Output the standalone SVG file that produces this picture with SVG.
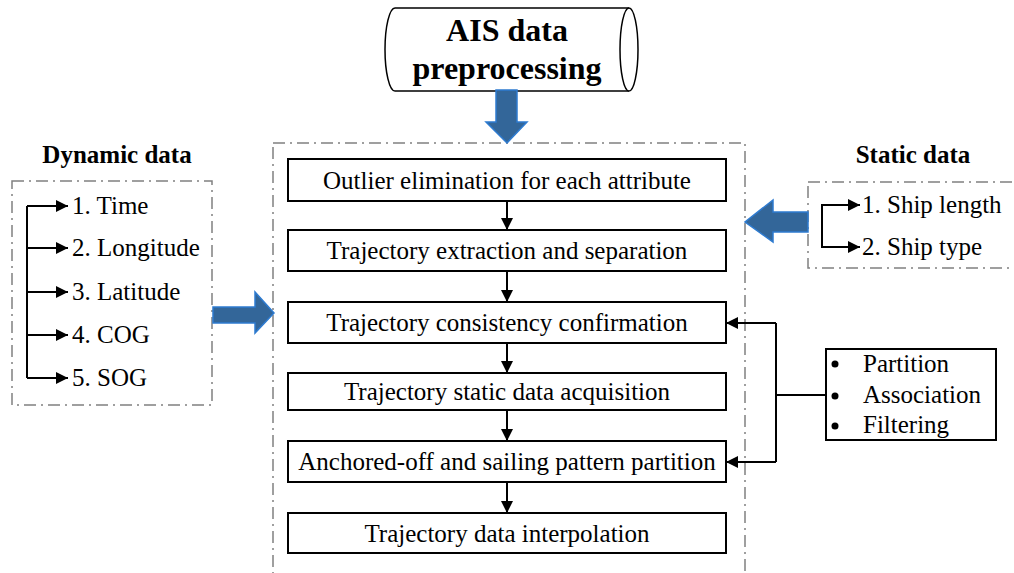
<svg xmlns="http://www.w3.org/2000/svg" width="1014" height="573" viewBox="0 0 1014 573">
<style>
.t{font-size:25px;fill:#000}
.h{font-size:32px}
.b{font-weight:bold}
.c{text-anchor:middle}
.box{fill:#fff;stroke:#000;stroke-width:2}
.dd{fill:none;stroke:#808080;stroke-width:1.5;stroke-dasharray:12 5 2 5}
.ln{fill:none;stroke:#000;stroke-width:2}
.blue{fill:#336699;stroke:#2E7BD0;stroke-width:1.5}
</style>
<defs>
<marker id="ah" viewBox="0 0 10 10" refX="10" refY="5" markerWidth="6" markerHeight="6" markerUnits="strokeWidth" orient="auto">
<path d="M0,0 L10,5 L0,10 Z" fill="#000"/>
</marker>
</defs>
<rect width="1014" height="573" fill="#fff"/>
<g font-family="Liberation Serif, Times New Roman, serif">
<g id="title">
<path d="M629,8 L395,8 A10 41.5 0 0 0 395,91 L629,91" fill="#fff" stroke="#000" stroke-width="1.5"/>
<ellipse cx="629" cy="49.5" rx="9" ry="41.5" fill="#fff" stroke="#000" stroke-width="1.5"/>
<text class="h b c" x="507" y="41">AIS data</text>
<text class="h b c" x="507" y="79">preprocessing</text>
</g>

<g id="main-container">
<rect class="dd" x="273" y="143" width="472" height="460"/>
</g>

<g id="dynamic">
<text class="t b c" x="117" y="163">Dynamic data</text>
<rect class="dd" x="12" y="181" width="200" height="224"/>
<text class="t" x="72" y="214">1. Time</text>
<text class="t" x="72" y="256">2. Longitude</text>
<text class="t" x="72" y="300">3. Latitude</text>
<text class="t" x="72" y="343">4. COG</text>
<text class="t" x="72" y="386">5. SOG</text>
</g>

<g id="static">
<text class="t b c" x="913" y="163">Static data</text>
<rect class="dd" x="808" y="182" width="210" height="86"/>
<text class="t" x="862" y="213">1. Ship length</text>
<text class="t" x="862" y="255">2. Ship type</text>
</g>

<g id="n1"><rect class="box" x="288" y="159" width="438" height="42"/><text class="t c" x="507" y="189">Outlier elimination for each attribute</text></g>
<g id="n2"><rect class="box" x="288" y="230" width="438" height="41"/><text class="t c" x="507" y="259">Trajectory extraction and separation</text></g>
<g id="n3"><rect class="box" x="288" y="302" width="438" height="41"/><text class="t c" x="507" y="331">Trajectory consistency confirmation</text></g>
<g id="n4"><rect class="box" x="288" y="373" width="438" height="37"/><text class="t c" x="507" y="400">Trajectory static data acquisition</text></g>
<g id="n5"><rect class="box" x="288" y="441" width="438" height="41"/><text class="t c" x="507" y="470">Anchored-off and sailing pattern partition</text></g>
<g id="n6"><rect class="box" x="288" y="513" width="438" height="40"/><text class="t c" x="507" y="542">Trajectory data interpolation</text></g>

<g id="methods">
<rect class="box" x="826" y="349" width="170" height="91"/>
<circle cx="835" cy="364" r="3.5" fill="#000"/>
<circle cx="835" cy="396" r="3.5" fill="#000"/>
<circle cx="835" cy="426" r="3.5" fill="#000"/>
<text class="t" x="863" y="372">Partition</text>
<text class="t" x="863" y="403">Association</text>
<text class="t" x="863" y="433">Filtering</text>
</g>
</g>

<g id="connectors">
<path class="blue" d="M496,90 L517,90 L517,122 L527,122 L507,143 L486,122 L496,122 Z"/>
<path class="blue" d="M213,307 L255,307 L255,292 L274,313 L255,333 L255,323 L213,323 Z"/>
<path class="blue" d="M808,212 L773,212 L773,200 L745,222 L773,242 L773,232 L808,232 Z"/>

<path class="ln" d="M27,206 L27,378"/>
<path class="ln" d="M27,206 L68,206" marker-end="url(#ah)"/>
<path class="ln" d="M27,248 L68,248" marker-end="url(#ah)"/>
<path class="ln" d="M27,292 L68,292" marker-end="url(#ah)"/>
<path class="ln" d="M27,335 L68,335" marker-end="url(#ah)"/>
<path class="ln" d="M27,378 L68,378" marker-end="url(#ah)"/>

<path class="ln" d="M860,205 L822,205 L822,247 L860,247" marker-end="url(#ah)"/>
<path class="ln" d="M822,205 L860,205" marker-end="url(#ah)"/>

<path class="ln" d="M507,201 L507,230" marker-end="url(#ah)"/>
<path class="ln" d="M507,271 L507,302" marker-end="url(#ah)"/>
<path class="ln" d="M507,343 L507,373" marker-end="url(#ah)"/>
<path class="ln" d="M507,410 L507,441" marker-end="url(#ah)"/>
<path class="ln" d="M507,482 L507,513" marker-end="url(#ah)"/>

<path class="ln" d="M826,395 L776,395"/>
<path class="ln" d="M776,323 L776,462"/>
<path class="ln" d="M776,323 L726,323" marker-end="url(#ah)"/>
<path class="ln" d="M776,462 L726,462" marker-end="url(#ah)"/>
</g>
</svg>
